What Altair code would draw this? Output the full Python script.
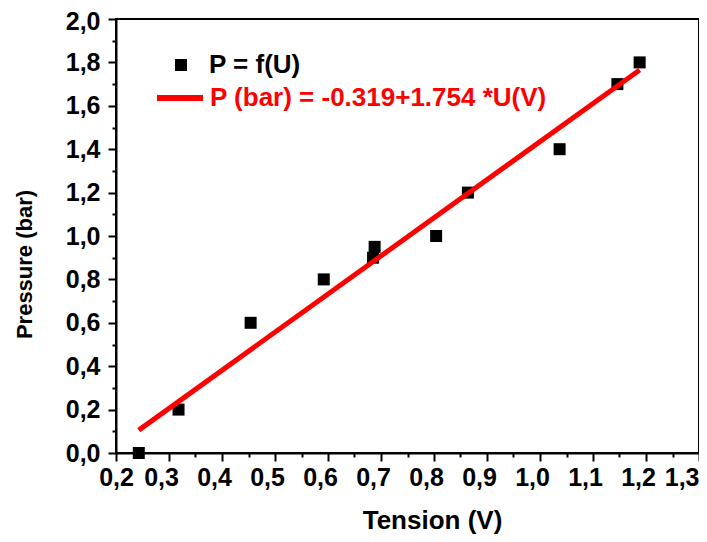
import altair as alt
import pandas as pd

# Data
tension = [0.243, 0.318, 0.454, 0.592, 0.685, 0.688, 0.804, 0.864, 1.037, 1.146, 1.188]
pressure = [0.0, 0.2, 0.6, 0.8, 0.9, 0.95, 1.0, 1.2, 1.4, 1.7, 1.8]

points_label = "P = f(U)"
fit_label = "P (bar) = -0.319+1.754 *U(V)"

x_ticks = [0.2, 0.25, 0.3, 0.35, 0.4, 0.45, 0.5, 0.55, 0.6, 0.65, 0.7, 0.75, 0.8,
           0.85, 0.9, 0.95, 1.0, 1.05, 1.1, 1.15, 1.2, 1.25, 1.3]
y_ticks = [0.0, 0.1, 0.2, 0.3, 0.4, 0.5, 0.6, 0.7, 0.8, 0.9, 1.0, 1.1, 1.2, 1.3,
           1.4, 1.5, 1.6, 1.7, 1.8, 1.9, 2.0]

df = pd.DataFrame({"U": tension, "P": pressure, "serie": [points_label] * len(tension)})

FONT = "Liberation Sans"

x_major = "abs(datum.value*10 - round(datum.value*10)) < 0.001"
y_major = "abs(datum.value*5 - round(datum.value*5)) < 0.001"

x_axis = alt.Axis(
    values=x_ticks,
    labelExpr=f"({x_major}) ? replace(format(datum.value, '.1f'), '.', ',') : ''",
    tickSize={"condition": {"test": x_major, "value": 8}, "value": 4},
    tickWidth=2, domainWidth=2, domainColor="black", tickColor="black",
    labelFont=FONT, labelFontSize=25, labelFontWeight="bold", labelColor="black",
    labelAlign={"condition": {"test": "datum.value > 1.29", "value": "right"}, "value": "center"},
    labelOffset={"condition": {"test": "datum.value < 0.21 || datum.value > 1.29", "value": 0}, "value": -8},
    labelPadding=4, labelFlush=False, labelOverlap=False,
    title="Tension (V)", titleFont=FONT, titleFontSize=26, titleFontWeight="bold",
    titleColor="black", titlePadding=17, titleX=316, grid=False,
)
y_axis = alt.Axis(
    values=y_ticks,
    labelExpr=f"({y_major}) ? replace(format(datum.value, '.1f'), '.', ',') : ''",
    tickSize={"condition": {"test": y_major, "value": 8}, "value": 4},
    tickWidth=2, domainWidth=2, domainColor="black", tickColor="black",
    labelFont=FONT, labelFontSize=25, labelFontWeight="bold", labelColor="black",
    labelOffset={"condition": {"test": "datum.value > 1.99", "value": 2}, "value": 0},
    labelPadding=8, labelFlush=False, labelOverlap=False,
    title="Pressure (bar)", titleFont=FONT, titleFontSize=22, titleFontWeight="bold",
    titleColor="black", titlePadding=29, titleY=245, grid=False,
)

xs = alt.Scale(domain=[0.2, 1.3], nice=False, zero=False)
ys = alt.Scale(domain=[0.0, 2.0], nice=False, zero=False)

pts = alt.Chart(df).mark_square(size=144, opacity=1, clip=False).encode(
    x=alt.X("U:Q", scale=xs, axis=x_axis),
    y=alt.Y("P:Q", scale=ys, axis=y_axis),
    color=alt.Color(
        "serie:N",
        scale=alt.Scale(domain=[points_label], range=["black"]),
        legend=alt.Legend(
            orient="none", legendX=52, legendY=33, title=None, padding=0,
            symbolType="square", symbolSize=144, symbolFillColor="black",
            symbolStrokeWidth=0, symbolOpacity=1, labelOffset=15,
            labelFont=FONT, labelFontSize=26, labelFontWeight="bold", labelColor="black",
            labelLimit=600,
        ),
    ),
)

fit = (
    alt.Chart(df)
    .transform_regression("U", "P")
    .transform_calculate(serie=f"'{fit_label}'")
    .mark_line(strokeWidth=5, strokeCap="butt")
    .encode(
        x=alt.X("U:Q", scale=xs, axis=x_axis),
        y=alt.Y("P:Q", scale=ys, axis=y_axis),
        color=alt.Color(
            "serie:N",
            scale=alt.Scale(domain=[fit_label], range=["red"]),
            legend=alt.Legend(
                orient="none", legendX=38, legendY=53, title=None, padding=0,
                symbolType="stroke", symbolSize=2116, symbolStrokeWidth=6,
                symbolStrokeColor="red", labelOffset=4,
                labelFont=FONT, labelFontSize=26, labelFontWeight="bold", labelColor="red",
                labelLimit=600,
            ),
        ),
    )
)

chart = (
    alt.layer(pts, fit)
    .resolve_scale(color="independent")
    .properties(
        width=583, height=434,
        autosize=alt.AutoSizeParams(type="none"),
        padding={"left": 108, "top": 11, "right": 0, "bottom": 81},
        background="white",
    )
    .configure_view(stroke="black", strokeWidth=2)
)

chart.save("out.html", embed_options={"renderer": "svg", "actions": False})
